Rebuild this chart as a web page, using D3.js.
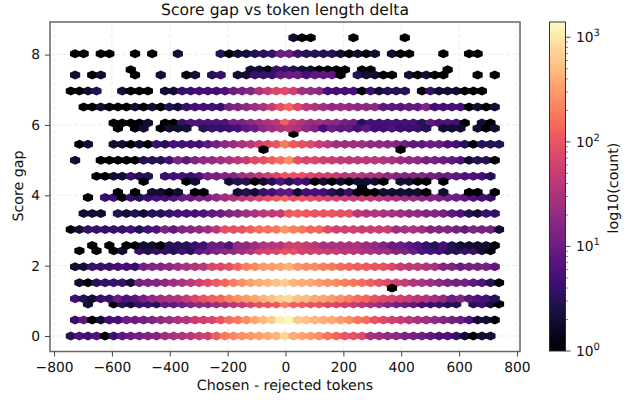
<!DOCTYPE html>
<html>
<head>
<meta charset="utf-8">
<script src="https://cdn.jsdelivr.net/npm/d3@7"></script>
<style>
html, body { margin: 0; padding: 0; background: #fff; }
text { font-family: "DejaVu Sans", sans-serif; fill: #111; text-rendering: geometricPrecision; }
</style>
</head>
<body>
<div id="chart"></div>
<script>
// counts per hexagon. index = column in the hex lattice, 0 = empty
const row00 = [3,6,5,6,1,4,8,10,12,14,16,25,30,35,40,50,60,120,180,220,260,300,330,380,450,750,400,350,300,250,170,130,100,90,80,30,25,20,20,14,12,10,8,6,6,4,2,1,2,2];
const row03 = [4,8,1,2,5,5,10,10,12,14,20,25,30,35,50,60,70,100,150,180,250,350,500,650,1100,1300,650,550,450,400,350,300,250,180,150,100,80,60,50,40,30,25,20,15,12,10,6,2,2,1];
const row06 = [0,0,2,0,0,1,3,2,4,4,3,8,8,10,14,18,20,25,30,40,50,70,90,100,110,200,120,110,100,100,80,70,60,50,40,30,25,15,12,10,8,5,4,4,3,3,0,3,4,2,1];
const row07 = [5,3,2,4,4,10,6,7,12,20,25,30,35,50,70,100,120,130,200,250,300,350,450,550,700,800,550,500,400,350,300,250,200,150,130,100,80,70,60,50,40,35,25,20,10,14,8,6,5,3];
const row09 = [0,0,0,0,0,0,0,0,0,0,0,0,0,0,0,0,0,0,0,0,0,0,0,0,0,0,0,0,0,0,0,0,0,0,0,0,0,1];
const row10 = [0,2,1,3,4,4,4,2,12,14,16,18,25,30,40,60,80,110,130,200,260,330,400,450,550,650,450,400,350,300,250,230,200,180,150,120,100,80,60,50,35,30,25,18,14,12,12,8,6,3,1];
const row13 = [2,2,4,4,4,5,5,4,12,14,15,18,25,30,35,40,70,80,90,130,200,230,300,320,350,430,280,230,230,200,180,150,130,120,110,100,90,80,50,45,45,35,30,15,15,10,12,12,12,8];
const row16 = [0,1,0,1,0,1,2,0,4,3,4,4,3,5,3,8,10,14,18,20,25,35,60,65,70,100,90,60,60,60,55,50,40,40,35,30,25,25,15,14,10,6,5,5,3,3,4,4,2,1];
const row17 = [0,0,1,0,1,0,1,1,2,2,1,3,3,3,4,5,10,10,6,20,20,25,35,38,40,60,60,50,40,30,30,30,30,30,22,20,15,10,10,8,6,4,3,5,3,2,2,2,2,1];
const row20 = [1,2,4,4,4,4,4,5,3,5,6,14,8,14,16,20,25,40,90,90,100,120,150,165,180,280,200,180,130,130,80,60,60,60,50,50,50,50,25,30,30,25,15,15,15,12,9,14,12,12,2];
const row23 = [0,2,2,2,0,3,2,3,2,3,3,4,5,5,5,6,8,10,14,18,25,30,40,45,50,110,120,110,100,100,100,90,90,40,35,35,30,30,25,20,20,15,15,12,8,6,3,2,4,4];
const row26 = [0,0,1,0,4,4,1,4,3,4,5,5,6,10,10,14,14,20,25,30,40,50,70,90,110,130,90,100,90,80,70,60,60,50,50,45,40,35,30,25,22,18,16,14,12,10,8,6,5,4];
const row27 = [0,0,0,0,0,1,0,1,0,2,2,1,2,0,1,1,0,0,0,2,3,2,4,5,8,8,2,5,5,5,3,2,4,1,1,1,2,2,2,2,2,1,0,2,0,0,1,1,0,1];
const row28 = [0,0,0,0,0,0,0,0,0,0,0,0,0,0,0,0,0,0,0,0,0,0,0,0,0,0,0,0,0,0,0,0,0,0,1];
const row29 = [0,0,0,0,0,0,0,0,1,0,0,0,0,1,2,0,0,0,2,3,3,1,2,3,6,3,5,4,1,2,1,2,1,2,2,2,1,0,2,2,1,1,0,1];
const row30 = [0,0,0,1,1,2,2,4,3,3,0,4,5,5,4,6,12,12,14,15,25,30,40,55,70,100,100,90,70,60,60,50,40,40,35,30,30,20,16,16,16,14,12,10,10,8,6,6,5,3];
const row33 = [2,0,0,1,1,1,1,1,3,3,3,5,14,8,15,20,20,25,30,40,50,80,90,120,150,250,90,70,70,60,50,45,40,40,40,40,35,30,25,20,18,12,12,10,8,6,2,3,3,1];
const row35 = [0,0,0,0,0,0,0,0,0,0,0,0,0,0,0,0,0,0,0,0,0,0,1,0,0,0,0,0,0,0,0,0,0,0,0,0,0,0,1];
const row36 = [0,1,2,0,0,2,2,1,2,1,4,3,5,5,5,5,8,12,18,22,30,40,60,80,100,190,110,90,80,50,40,25,25,25,25,20,20,18,15,10,8,8,10,10,6,5,3,1,3,3,3];
const row38 = [0,0,0,0,0,0,0,0,0,0,0,0,0,0,0,0,0,0,0,0,0,0,0,0,0,0,1];
const row39 = [0,0,0,0,0,1,0,1,2,0,1,2,2,2,0,3,4,4,4,5,8,10,18,24,30,40,30,20,14,5,10,8,8,5,8,5,5,6,4,4,4,3,0,2,2,2,0,2,1,2];
const row40 = [0,0,0,0,0,1,1,1,1,2,0,1,1,4,6,6,6,6,6,12,12,18,25,30,40,120,50,35,22,25,20,18,12,10,3,5,5,5,5,5,5,3,8,6,6,5,1,0,2,1];
const row43 = [0,1,1,2,1,1,1,2,1,2,1,3,2,4,5,5,5,4,12,14,20,25,30,50,90,130,70,40,35,25,20,22,20,18,18,18,8,8,7,8,8,14,5,5,5,5,1,2,1,2];
const row46 = [1,1,2,3,0,0,2,1,1,1,0,2,2,4,4,5,5,5,6,10,12,15,30,50,70,80,60,25,22,18,5,5,5,5,1,4,2,3,3,3,0,1,4,2,2,2,1,1,1];
const row49 = [2,0,1,2,0,0,0,1,0,0,2,0,0,1,2,0,3,4,0,2,2,4,4,4,8,10,10,5,8,8,8,1,0,3,2,2,1,1,0,2,1,2,1,1,0,0,0,1,0,1];
const row50 = [0,0,0,0,0,0,0,1,0,0,0,0,0,0,0,0,0,0,0,0,0,2,2,1,4,4,3,2,2,1,1,1,1,0,1,1,0,0,0,0,0,0,0,0,1];
const row53 = [1,1,0,1,1,0,0,1,0,1,0,0,2,0,0,0,0,3,1,2,2,3,3,4,10,10,4,3,3,3,3,2,1,2,1,2,0,2,1,1,0,0,0,1,0,0,1,1];
const row56 = [0,0,0,0,0,0,0,0,0,0,0,0,0,0,0,0,0,0,0,0,0,0,0,0,0,0,2,1,1,0,0,0,0,1,0,0,0,0,0,1];

const gapBins = [0,3,6,7,9,10,13,16,17,20,23,26,27,28,29,30,33,35,36,38,39,40,43,46,49,50,53,56];
const countRows = [row00,row03,row06,row07,row09,row10,row13,row16,row17,row20,row23,row26,row27,row28,row29,row30,row33,row35,row36,row38,row39,row40,row43,row46,row49,row50,row53,row56];

const xTicks = [-800,-600,-400,-200,0,200,400,600,800];
const yTicks = [0,2,4,6,8];
const cbDecades = [1,10,100,1000];
const cbMinor = [2,3,4,5,6,7,8,9,20,30,40,50,60,70,80,90,200,300,400,500,600,700,800,900];

var binWidth = 29.6, binHeight = 0.1514;
var maxCount = 1400;

var svg = d3.select("#chart").append("svg")
    .attr("width", 630).attr("height", 400)
    .style("display", "block");

var left = 50, right = 520, top_ = 22, bottom = 351.5;

var x = d3.scaleLinear().domain([-814, 810.5]).range([left, right]);
var y = d3.scaleLinear().domain([-0.44, 8.926]).range([bottom, top_]);
var color = d3.scaleSequentialLog(d3.interpolateMagma).domain([1, maxCount]);

// grid
svg.append("g").selectAll("line").data(xTicks).enter().append("line")
    .attr("x1", d => x(d)).attr("x2", d => x(d))
    .attr("y1", top_).attr("y2", bottom)
    .attr("stroke", "#e8e8e8").attr("stroke-dasharray", "4,2").attr("stroke-width", 0.8);
svg.append("g").selectAll("line").data(yTicks).enter().append("line")
    .attr("x1", left).attr("x2", right)
    .attr("y1", d => y(d)).attr("y2", d => y(d))
    .attr("stroke", "#e8e8e8").attr("stroke-dasharray", "4,2").attr("stroke-width", 0.8);

// flatten rows to cells, even lattice first like hexbin does
var cells = [];
[0, 1].forEach(function (parity) {
    gapBins.forEach(function (bin, r) {
        if (bin % 2 !== parity) return;
        countRows[r].forEach(function (c, k) {
            if (c > 0) cells.push({
                x: (parity ? -727.2 : -742) + k * binWidth,
                y: bin * binHeight,
                count: c
            });
        });
    });
});

var hw = (x(binWidth) - x(0)) / 2;
var hh = (y(0) - y(binHeight)) * 2 / 3;
var hexPath = d3.line()([[hw, hh / 2], [hw, -hh / 2], [0, -hh], [-hw, -hh / 2], [-hw, hh / 2], [0, hh]]) + "Z";

svg.append("g").selectAll("path").data(cells).enter().append("path")
    .attr("d", hexPath)
    .attr("transform", d => "translate(" + x(d.x) + "," + y(d.y) + ")")
    .attr("fill", d => color(d.count))
    .attr("stroke", d => color(d.count))
    .attr("stroke-width", 1.6);

// frame
svg.append("rect").attr("x", left).attr("y", top_)
    .attr("width", right - left).attr("height", bottom - top_)
    .attr("fill", "none").attr("stroke", "#666").attr("stroke-width", 1.5);

var xAxis = svg.append("g").attr("transform", "translate(0," + bottom + ")")
    .call(d3.axisBottom(x).tickValues(xTicks).tickSize(5).tickPadding(5.5));
var yAxis = svg.append("g").attr("transform", "translate(" + left + ",0)")
    .call(d3.axisLeft(y).tickValues(yTicks).tickFormat(d3.format("d")).tickSize(5).tickPadding(5));
[xAxis, yAxis].forEach(function (g) {
    g.select(".domain").remove();
    g.selectAll("text").style("font-size", "13.8px").style("font-family", "DejaVu Sans");
    g.selectAll("line").attr("stroke", "#444").attr("stroke-width", 1);
});

svg.append("text").attr("x", 285).attr("y", 15).attr("text-anchor", "middle")
    .style("font-size", "15.6px").text("Score gap vs token length delta");
svg.append("text").attr("x", 285).attr("y", 390).attr("text-anchor", "middle")
    .style("font-size", "14.2px").text("Chosen - rejected tokens");
svg.append("text").attr("transform", "translate(23,186) rotate(-90)").attr("text-anchor", "middle")
    .style("font-size", "14.2px").text("Score gap");

// colorbar
var cbLeft = 549.5, cbRight = 565.5;
var cb = d3.scaleLog().domain([1, maxCount]).range([351, 22]);
var grad = svg.append("defs").append("linearGradient").attr("id", "cbGrad")
    .attr("x1", 0).attr("y1", 1).attr("x2", 0).attr("y2", 0);
d3.range(0, 1.001, 0.02).forEach(function (t) {
    grad.append("stop").attr("offset", t).attr("stop-color", d3.interpolateMagma(t));
});
svg.append("rect").attr("x", cbLeft).attr("y", 22)
    .attr("width", cbRight - cbLeft).attr("height", 329)
    .attr("fill", "url(#cbGrad)").attr("stroke", "#222").attr("stroke-width", 0.9);

var cbAxis = svg.append("g").attr("transform", "translate(" + cbRight + ",0)");
cbAxis.selectAll("line.minor").data(cbMinor).enter().append("line")
    .attr("class", "minor")
    .attr("x1", 0).attr("x2", 2.5).attr("y1", d => cb(d)).attr("y2", d => cb(d))
    .attr("stroke", "#333").attr("stroke-width", 0.6);
cbAxis.selectAll("line.major").data(cbDecades).enter().append("line")
    .attr("class", "major")
    .attr("x1", 0).attr("x2", 5).attr("y1", d => cb(d)).attr("y2", d => cb(d))
    .attr("stroke", "#333").attr("stroke-width", 0.9);
var cbLabels = cbAxis.selectAll("text.lab").data(cbDecades).enter().append("text")
    .attr("class", "lab").attr("x", 10.5).attr("y", d => cb(d) + 5)
    .style("font-size", "13.8px");
cbLabels.append("tspan").text("10");
cbLabels.append("tspan").attr("dy", -6).style("font-size", "10px").text(d => Math.round(Math.log10(d)));

svg.append("text").attr("transform", "translate(618,188) rotate(-90)").attr("text-anchor", "middle")
    .style("font-size", "14.2px").text("log10(count)");
</script>
</body>
</html>
